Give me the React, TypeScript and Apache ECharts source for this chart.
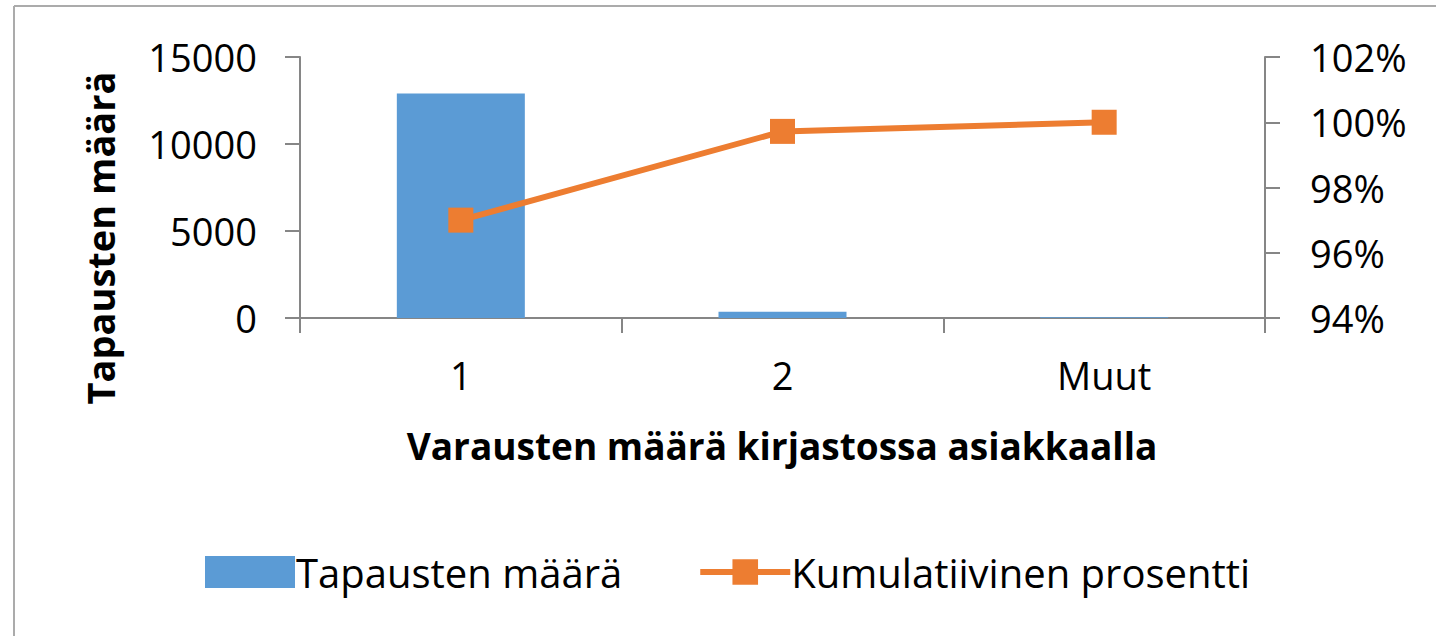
import React, { useEffect, useRef } from "react";
import * as echarts from "echarts";

const categories = ["1", "2", "Muut"];
const caseCounts = [12900, 360, 40];
const cumulativePercent = [97.0, 99.72, 100.0];
const leftTicks = [0, 5000, 10000, 15000];
const rightTicks = [94, 96, 98, 100, 102];

const FONT = "Open Sans";

export default function App() {
  const ref = useRef<HTMLDivElement>(null);
  useEffect(() => {
    if (!ref.current) return;
    const chart = echarts.init(ref.current, null, { renderer: "svg" });
    chart.setOption({
      animation: false,
      backgroundColor: "#ffffff",
      textStyle: { fontFamily: FONT },
      grid: { left: 300, right: 171, top: 57, height: 261, containLabel: false },
      legend: {
        top: 547,
        left: 200,
        itemGap: 75,
        itemWidth: 90,
        itemHeight: 32,
        textStyle: { fontFamily: FONT, fontSize: 40, color: "#000", padding: [0, 0, 0, -4] },
        data: [
          { name: "Tapausten määrä", icon: "rect" },
          {
            name: "Kumulatiivinen prosentti",
            lineStyle: { width: 6, color: "#ED7D31" },
          },
        ],
      },
      xAxis: {
        type: "category",
        data: categories,
        axisLine: { lineStyle: { color: "#868686", width: 2 } },
        axisTick: { show: true, length: 15, alignWithLabel: false, lineStyle: { color: "#868686", width: 2 } },
        axisLabel: { fontFamily: FONT, fontSize: 38, color: "#000", margin: 38 },
      },
      yAxis: [
        {
          type: "value",
          min: leftTicks[0],
          max: leftTicks[leftTicks.length - 1],
          interval: 5000,
          splitLine: { show: false },
          axisLine: { show: true, lineStyle: { color: "#868686", width: 2 } },
          axisTick: { show: true, length: 15, lineStyle: { color: "#868686", width: 2 } },
          axisLabel: {
            fontFamily: FONT,
            fontSize: 38,
            color: "#000",
            margin: 43,
            formatter: (v: number) => String(v),
          },
        },
        {
          type: "value",
          min: rightTicks[0],
          max: rightTicks[rightTicks.length - 1],
          interval: 2,
          position: "right",
          splitLine: { show: false },
          axisLine: { show: true, lineStyle: { color: "#868686", width: 2 } },
          axisTick: { show: true, length: 15, lineStyle: { color: "#868686", width: 2 } },
          axisLabel: { fontFamily: FONT, fontSize: 38, color: "#000", margin: 45, formatter: "{value}%" },
        },
      ],
      series: [
        {
          name: "Tapausten määrä",
          type: "bar",
          data: caseCounts,
          barWidth: 128,
          itemStyle: { color: "#5B9BD5" },
        },
        {
          name: "Kumulatiivinen prosentti",
          type: "line",
          yAxisIndex: 1,
          data: cumulativePercent,
          symbol: "rect",
          symbolSize: 25,
          lineStyle: { color: "#ED7D31", width: 6 },
          itemStyle: { color: "#ED7D31" },
        },
      ],
      graphic: [
        { type: "line", shape: { x1: 14, y1: 6, x2: 1436, y2: 6 }, style: { stroke: "#ababab", lineWidth: 2 } },
        { type: "line", shape: { x1: 14, y1: 6, x2: 14, y2: 636 }, style: { stroke: "#ababab", lineWidth: 2 } },
        {
          type: "text",
          x: 100,
          y: 238,
          rotation: Math.PI / 2,
          style: {
            text: "Tapausten määrä",
            fontFamily: FONT,
            fontWeight: "bold",
            fontSize: 38,
            fill: "#000",
            align: "center",
            verticalAlign: "middle",
          },
        },
        {
          type: "text",
          x: 782,
          y: 445,
          style: {
            text: "Varausten määrä kirjastossa asiakkaalla",
            fontFamily: FONT,
            fontWeight: "bold",
            fontSize: 37,
            fill: "#000",
            align: "center",
            verticalAlign: "middle",
          },
        },
      ],
    });
    return () => chart.dispose();
  }, []);
  return <div ref={ref} style={{ width: 1436, height: 636, position: "absolute", left: 0, top: 0 }} />;
}
